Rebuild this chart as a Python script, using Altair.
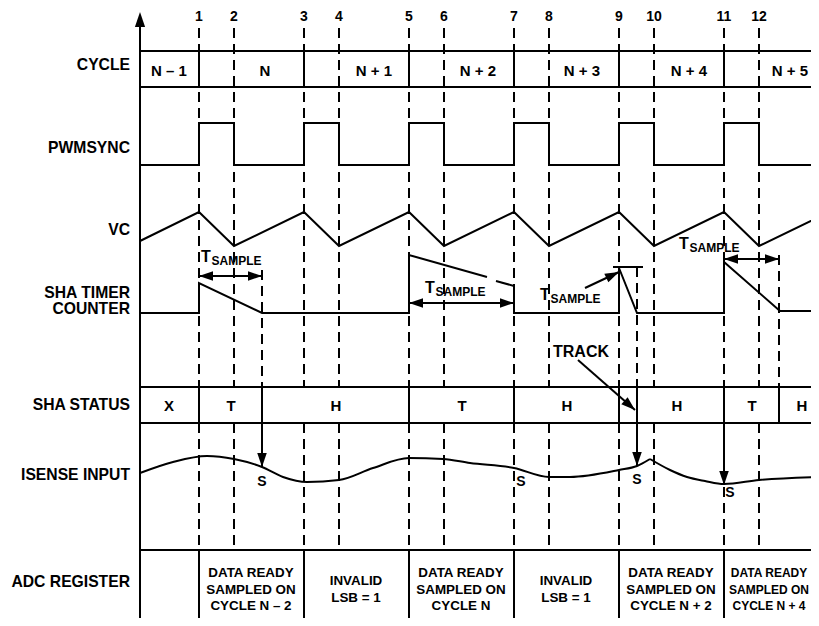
import math
import altair as alt
import pandas as pd

FONT = "Liberation Sans"

# ---------------- data (page pixel coordinates) ----------------
EVENT_X = [199, 234, 304, 339, 409, 444, 514, 549, 619, 654, 724, 759]
EVENT_LABELS = ["1", "2", "3", "4", "5", "6", "7", "8", "9", "10", "11", "12"]

ROW_LABELS = ["CYCLE", "PWMSYNC", "VC", "SHA TIMER", "COUNTER", "SHA STATUS", "ISENSE INPUT", "ADC REGISTER"]
ROW_LABEL_Y = [65, 148, 230, 293, 309, 405, 475, 582]

CYCLE_NAMES = ["N – 1", "N", "N + 1", "N + 2", "N + 3", "N + 4", "N + 5"]
CYCLE_NAME_X = [169, 265, 374, 478, 582, 689, 790]
CYCLE_BOUNDS_X = [199, 304, 409, 514, 619, 724]

PWM_RISE_X = [199, 304, 409, 514, 619, 724]
PWM_FALL_X = [234, 339, 444, 549, 654, 759]
PWM_LOW, PWM_HIGH = 165, 123

VC_X = [140, 199, 234, 304, 339, 409, 444, 514, 549, 619, 654, 724, 759, 819]
VC_Y = [241, 212, 246, 212, 246, 212, 246, 212, 246, 212, 246, 212, 246, 217]

SHA_X_A = [140, 199, 199, 262, 409, 409, 487]
SHA_Y_A = [313, 313, 283, 313, 313, 255, 277]
SHA_X_B = [496, 514, 514, 619, 619, 637, 724, 724, 780, 819]
SHA_Y_B = [281, 286, 313, 313, 268, 313, 313, 262, 311, 311]

SHA_STATUS = ["X", "T", "H", "T", "H", "H", "T", "H"]
SHA_STATUS_X = [169, 231, 336, 462, 567, 677, 752, 802]
SHA_BOUNDS_X = [199, 262, 409, 514, 619, 637, 724, 779]

ISENSE_X_A = [140, 173, 207, 234, 262, 283, 307, 339, 373, 409, 443, 470, 514, 549, 570, 619, 637, 650]
ISENSE_Y_A = [473, 462, 456, 459, 467, 477, 482, 480, 468, 458, 459, 463, 468, 477, 477, 470, 466, 459]
ISENSE_X_B = [650, 670, 687, 705, 724, 759, 819]
ISENSE_Y_B = [459, 470, 477, 481, 484, 480, 477]

S_X = [262, 521, 637, 730]
S_Y = [482, 482, 480, 493]

TS_X = [201, 425, 540, 679]
TS_BASE = [262, 293, 300, 249]

DBL_Y = [276, 303, 259]
DBL_X1 = [199, 409, 724]
DBL_X2 = [262, 514, 779]

# single arrows: tail -> tip
ARR_X1 = [585, 578, 262, 637, 724]
ARR_Y1 = [288, 360, 387, 387, 387]
ARR_X2 = [619, 635, 262, 637, 724]
ARR_Y2 = [272, 410, 467, 466, 485]

TRACK_X, TRACK_Y = 581, 352

ADC_BOUNDS_X = [199, 304, 409, 514, 619, 724]
ADC_TEXT = [["DATA READY", "SAMPLED ON", "CYCLE N – 2"],
            ["INVALID", "LSB = 1"],
            ["DATA READY", "SAMPLED ON", "CYCLE N"],
            ["INVALID", "LSB = 1"],
            ["DATA READY", "SAMPLED ON", "CYCLE N + 2"],
            ["DATA READY", "SAMPLED ON", "CYCLE N + 4"]]
ADC_TEXT_X = [251, 356, 461, 566, 671, 769]
ADC_TEXT_SIZE = [13.4, 13.4, 13.4, 13.4, 13.4, 12]

ROW_LINES_Y = [51, 87, 387, 423, 550]
AXIS_X, RIGHT_X = 140, 819
NUM_Y, DASH_TOP = 16.5, 28
CYC_TOP, CYC_BOT = 51, 87
SHA_TOP, SHA_BOT = 387, 423
ADC_TOP, BOTTOM = 550, 626

# ---------------- scales: 1 data unit = 1 page pixel ----------------
W, H = 803, 610
XSC = alt.Scale(domain=[8, 8 + W], nice=False, zero=False)
YSC = alt.Scale(domain=[8, 8 + H], nice=False, zero=False, reverse=True)


def X(f="x"):
    return alt.X(f + ":Q", scale=XSC, axis=None)


def Y(f="y"):
    return alt.Y(f + ":Q", scale=YSC, axis=None)


def rules(rows, **kw):
    df = pd.DataFrame(rows, columns=["x", "y", "x2", "y2"])
    return alt.Chart(df).mark_rule(color="black", strokeWidth=2, **kw).encode(
        x=X(), y=Y(), x2="x2:Q", y2="y2:Q")


# solid segments
solid = []
for yy in ROW_LINES_Y:
    solid.append((AXIS_X, yy, RIGHT_X, yy))
for xx in CYCLE_BOUNDS_X:
    solid.append((xx, CYC_TOP, xx, CYC_BOT))
for xx in SHA_BOUNDS_X:
    solid.append((xx, SHA_TOP, xx, SHA_BOT))
for xx in ADC_BOUNDS_X:
    solid.append((xx, ADC_TOP, xx, BOTTOM))
solid.append((AXIS_X, 20, AXIS_X, BOTTOM))
for yy, a, b in zip(DBL_Y, DBL_X1, DBL_X2):
    solid.append((a, yy, b, yy))
for a, b, c, d in zip(ARR_X1, ARR_Y1, ARR_X2, ARR_Y2):
    solid.append((a, b, c, d))
solid.append((613, 267, 643, 267))

# dashed segments
dashed = []
for xx in EVENT_X:
    dashed.append((xx, DASH_TOP, xx, SHA_TOP))
    dashed.append((xx, SHA_BOT, xx, ADC_TOP))
dashed.append((262, 270, 262, SHA_TOP))
dashed.append((637, 267, 637, SHA_TOP))
dashed.append((779, 255, 779, SHA_TOP))

# polylines
poly = []
pts = [(AXIS_X, PWM_LOW)]
for r, f in zip(PWM_RISE_X, PWM_FALL_X):
    pts += [(r, PWM_LOW), (r, PWM_HIGH), (f, PWM_HIGH), (f, PWM_LOW)]
pts.append((RIGHT_X, PWM_LOW))
for i, (a, b) in enumerate(pts):
    poly.append(("pwm", i, a, b))
for i, (a, b) in enumerate(zip(VC_X, VC_Y)):
    poly.append(("vc", i, a, b))
for i, (a, b) in enumerate(zip(SHA_X_A, SHA_Y_A)):
    poly.append(("shaA", i, a, b))
for i, (a, b) in enumerate(zip(SHA_X_B, SHA_Y_B)):
    poly.append(("shaB", i, a, b))
poly_df = pd.DataFrame(poly, columns=["seg", "i", "x", "y"])
poly_layer = alt.Chart(poly_df).mark_line(color="black", strokeWidth=2, strokeJoin="miter").encode(
    x=X(), y=Y(), detail="seg:N", order="i:Q")

curve = []
for i, (a, b) in enumerate(zip(ISENSE_X_A, ISENSE_Y_A)):
    curve.append(("a", i, a, b))
for i, (a, b) in enumerate(zip(ISENSE_X_B, ISENSE_Y_B)):
    curve.append(("b", i, a, b))
curve_df = pd.DataFrame(curve, columns=["seg", "i", "x", "y"])
curve_layer = alt.Chart(curve_df).mark_line(color="black", strokeWidth=2, interpolate="monotone").encode(
    x=X(), y=Y(), detail="seg:N", order="i:Q")

# arrowheads
ARROW = "M0,0L-0.34,1L0.34,1Z"


def ang(dx, dy):
    return math.degrees(math.atan2(dx, -dy)) % 360


heads = []
for yy, a, b in zip(DBL_Y, DBL_X1, DBL_X2):
    heads.append((a, yy, ang(-1, 0), 784))
    heads.append((b, yy, ang(1, 0), 784))
for a, b, c, d in zip(ARR_X1, ARR_Y1, ARR_X2, ARR_Y2):
    heads.append((c, d, ang(c - a, d - b), 784))
heads.append((AXIS_X, 12, 0, 900))
heads_df = pd.DataFrame(heads, columns=["x", "y", "angle", "size"])
heads_layer = alt.Chart(heads_df).mark_point(shape=ARROW, filled=True, color="black", opacity=1,
                                             strokeWidth=0).encode(
    x=X(), y=Y(), angle=alt.Angle("angle:Q", scale=None), size=alt.Size("size:Q", scale=None))

# texts
row_df = pd.DataFrame({"x": [130] * len(ROW_LABELS), "y": ROW_LABEL_Y, "t": ROW_LABELS})
row_layer = alt.Chart(row_df).mark_text(font=FONT, fontWeight="bold", fontSize=15.7, align="right",
                                        baseline="middle", color="black").encode(x=X(), y=Y(), text="t:N")

ctext = []
for xx, t in zip(EVENT_X, EVENT_LABELS):
    ctext.append((xx, NUM_Y, t, 14))
for xx, t in zip(CYCLE_NAME_X, CYCLE_NAMES):
    ctext.append((xx, 71, t, 15))
for xx, t in zip(SHA_STATUS_X, SHA_STATUS):
    ctext.append((xx, 405.5, t, 15))
for xx, yy in zip(S_X, S_Y):
    ctext.append((xx, yy, "S", 14))
ctext.append((TRACK_X, TRACK_Y, "TRACK", 16))
for xx, lines, fs in zip(ADC_TEXT_X, ADC_TEXT, ADC_TEXT_SIZE):
    n = len(lines)
    for k, t in enumerate(lines):
        ctext.append((xx, 589.5 + (k - (n - 1) / 2) * 16.7, t, fs))
ctext_df = pd.DataFrame(ctext, columns=["x", "y", "t", "fs"])
ctext_layer = alt.Chart(ctext_df).mark_text(font=FONT, fontWeight="bold", align="center",
                                            baseline="middle", color="black").encode(
    x=X(), y=Y(), text="t:N", size=alt.Size("fs:Q", scale=None))

ts = []
for xx, yy in zip(TS_X, TS_BASE):
    ts.append((xx, yy, "T", 16))
    ts.append((xx + 10.5, yy + 3, "SAMPLE", 12))
ts_df = pd.DataFrame(ts, columns=["x", "y", "t", "fs"])
ts_layer = alt.Chart(ts_df).mark_text(font=FONT, fontWeight="bold", align="left",
                                      baseline="alphabetic", color="black").encode(
    x=X(), y=Y(), text="t:N", size=alt.Size("fs:Q", scale=None))

chart = alt.layer(
    rules(dashed, strokeDash=[10, 6]),
    rules(solid),
    poly_layer,
    curve_layer,
    heads_layer,
    row_layer,
    ctext_layer,
    ts_layer,
).properties(
    width=W, height=H, padding=0, autosize=alt.AutoSizeParams(type="none")
).configure_view(stroke=None)

chart.save("out.html", embed_options={"renderer": "svg", "actions": False})
